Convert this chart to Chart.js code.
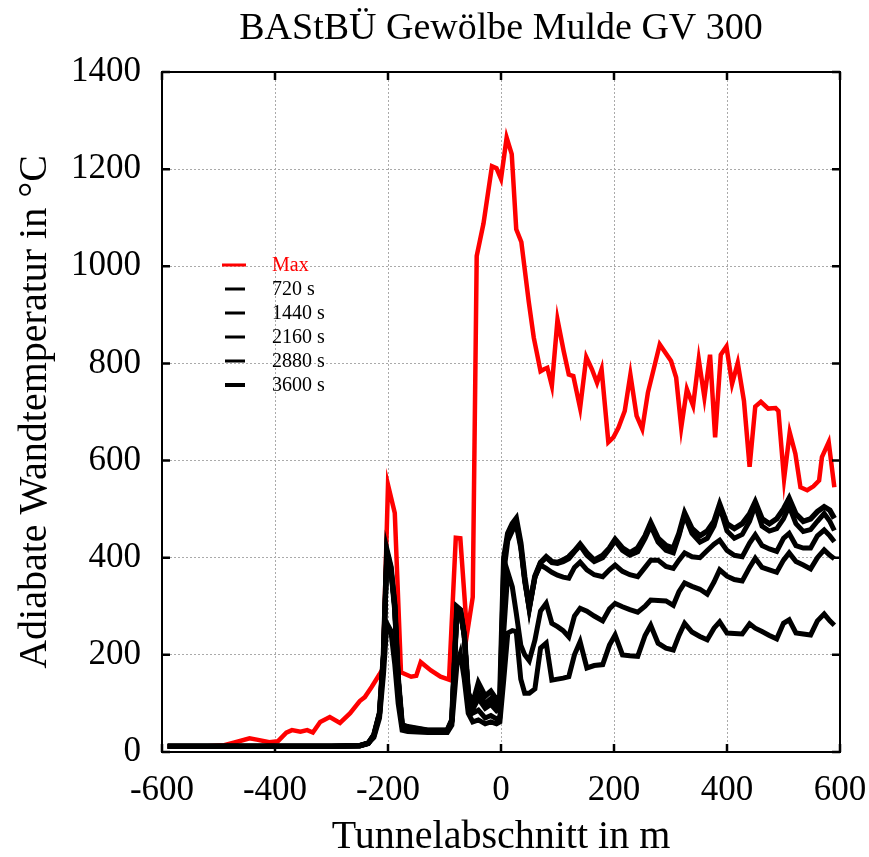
<!DOCTYPE html>
<html>
<head>
<meta charset="utf-8">
<script src="https://cdn.jsdelivr.net/npm/chart.js@4"></script>
<style>
  body { margin: 0; background: #fff; }
</style>
</head>
<body>
<canvas id="chart" width="869" height="857"></canvas>
<script>
// Max curve (own positions, m) and values (°C)
const maxX = [-590, -560, -520, -490, -470, -445, -430, -410, -395, -380, -370, -355, -343, -333, -320, -303, -285, -267,
  -250, -241, -229, -215, -209, -200, -188, -177, -159, -150, -142, -124, -107, -92, -80, -72, -60, -50, -43, -31,
  -16, -8, 0, 10, 19, 27, 36, 49, 58, 70, 76, 82, 90, 100, 111, 120, 128, 140, 151, 161, 170, 178, 190, 199, 208,
  219, 229, 240, 250, 260, 281, 301, 310, 319, 329, 340, 350, 360, 370, 379, 389, 399, 409, 419, 430, 440, 450,
  460, 473, 486, 491, 501, 511, 521, 530, 542, 553, 563, 568, 580, 590];
const maxT = [12, 12, 12, 14, 20, 28, 25, 20, 22, 40, 45, 42, 45, 40, 62, 72, 60, 80,
  105, 113, 134, 160, 172, 550, 492, 164, 155, 157, 185, 168, 155, 149, 441, 440, 244, 319, 1021, 1088,
  1206, 1202, 1180, 1265, 1231, 1076, 1050, 928, 853, 784, 788, 791, 754, 890, 825, 777, 774, 708, 813, 788, 760, 788, 638, 648, 668,
  702, 777, 692, 665, 740, 839, 805, 771, 668, 747, 713, 808, 730, 818, 648, 818, 835, 758, 801, 723, 587, 711,
  721, 707, 708, 702, 562, 658, 614, 545, 539, 547, 559, 607, 638, 545];

// Positions of the time curves (m)
const posX = [-590, -500, -400, -300, -250, -235, -225, -215, -208, -202, -195, -188, -182, -175, -165, -130, -95, -87, -78, -72,
  -65, -58, -50, -40, -28, -18, -8, -2, 5, 12, 20, 27, 35, 42, 50, 60, 70, 80, 90, 100,
  110, 120, 130, 140, 152, 165, 180, 192, 202, 215, 228, 242, 255, 265, 278, 292, 305, 315, 325, 338,
  352, 365, 377, 387, 400, 413, 427, 440, 450, 462, 475, 488, 500, 510, 522, 535, 548, 560, 572, 582, 590];

const t720 = [12, 12, 12, 12, 13, 18, 30, 70, 160, 265, 250, 180, 100, 45, 42, 40, 40, 55, 180, 203,
  150, 80, 62, 66, 58, 62, 58, 62, 150, 245, 250, 248, 150, 121, 121, 130, 214, 224, 148, 150,
  152, 155, 200, 227, 173, 178, 180, 220, 241, 200, 198, 197, 240, 261, 224, 214, 210, 240, 265, 247,
  238, 231, 255, 268, 245, 244, 243, 264, 255, 248, 240, 233, 265, 272, 245, 243, 241, 270, 284, 270, 261];
const t1440 = [12, 12, 12, 12, 13, 18, 33, 78, 195, 405, 375, 290, 150, 55, 48, 43, 43, 62, 295, 290,
  240, 120, 80, 86, 70, 75, 68, 72, 250, 370, 340, 286, 220, 200, 188, 230, 290, 306, 265, 258,
  250, 237, 280, 296, 290, 280, 270, 295, 306, 299, 293, 288, 300, 313, 312, 311, 302, 330, 348, 341,
  335, 325, 350, 375, 362, 355, 352, 380, 399, 380, 375, 370, 395, 410, 392, 385, 377, 400, 416, 405, 398];
const t2160 = [12, 12, 12, 12, 13, 18, 35, 80, 200, 410, 380, 300, 150, 55, 50, 44, 44, 64, 297, 292,
  240, 120, 88, 110, 90, 98, 85, 90, 370, 435, 455, 468, 420, 350, 296, 360, 385, 378, 370, 364,
  360, 358, 380, 391, 375, 365, 361, 375, 385, 372, 365, 361, 380, 395, 395, 382, 378, 395, 410, 402,
  400, 415, 428, 436, 415, 405, 402, 430, 447, 425, 418, 413, 440, 450, 425, 420, 420, 445, 457, 445, 433];
const t2880 = [12, 12, 12, 12, 13, 18, 35, 80, 200, 413, 380, 300, 150, 55, 51, 45, 45, 65, 298, 292,
  240, 120, 95, 121, 100, 110, 95, 102, 390, 445, 465, 476, 425, 355, 296, 360, 390, 400, 390, 388,
  392, 398, 412, 425, 405, 392, 400, 418, 435, 415, 405, 412, 440, 466, 432, 415, 410, 445, 488, 450,
  432, 440, 465, 505, 455, 440, 448, 475, 508, 465, 455, 460, 480, 506, 470, 454, 458, 475, 491, 475, 456];
const t3600 = [12, 12, 12, 12, 13, 18, 35, 80, 200, 416, 382, 302, 152, 56, 52, 45, 45, 66, 299, 293,
  242, 122, 100, 142, 115, 125, 108, 115, 400, 450, 470, 481, 430, 360, 296, 362, 390, 402, 392, 390,
  395, 402, 414, 428, 410, 395, 405, 420, 438, 420, 410, 420, 445, 472, 440, 425, 420, 450, 492, 460,
  445, 455, 475, 510, 470, 460, 470, 490, 515, 480, 470, 480, 500, 522, 490, 475, 480, 495, 505, 498, 481];

const seriesNames = ['Max', '720 s', '1440 s', '2160 s', '2880 s', '3600 s'];
const xTicks = [-600, -400, -200, 0, 200, 400, 600];
const yTicks = [0, 200, 400, 600, 800, 1000, 1200, 1400];
const chartTitle = 'BAStBÜ Gewölbe Mulde GV 300';

const FONT = '"Liberation Serif", "Times New Roman", serif';

function pts(xs, ys) {
  return xs.map((x, i) => ({ x: x, y: ys[i] }));
}

const timeSeries = [t720, t1440, t2160, t2880, t3600];
const datasets = [{
  label: seriesNames[0],
  data: pts(maxX, maxT),
  borderColor: '#ff0000',
  borderWidth: 4.5,
  order: 1
}];
timeSeries.forEach((vals, i) => {
  datasets.push({
    label: seriesNames[i + 1],
    data: pts(posX, vals),
    borderColor: '#000000',
    borderWidth: i === 4 ? 5.5 : 5,
    order: 0
  });
});

// title, frame, inward ticks and the legend inside the plot
const framePlugin = {
  id: 'frame',
  afterDraw(chart) {
    const { ctx, chartArea: a, scales } = chart;
    ctx.save();
    ctx.fillStyle = '#000';
    ctx.font = '38px ' + FONT;
    ctx.textAlign = 'center';
    ctx.textBaseline = 'middle';
    ctx.fillText(chartTitle, (a.left + a.right) / 2, 29);

    ctx.strokeStyle = '#000';
    ctx.lineWidth = 2;
    ctx.strokeRect(a.left, a.top, a.right - a.left, a.bottom - a.top);
    ctx.lineWidth = 2.5;
    ctx.beginPath();
    xTicks.forEach(v => {
      const px = scales.x.getPixelForValue(v);
      ctx.moveTo(px, a.bottom); ctx.lineTo(px, a.bottom - 8);
      ctx.moveTo(px, a.top); ctx.lineTo(px, a.top + 8);
    });
    yTicks.forEach(v => {
      const py = scales.y.getPixelForValue(v);
      ctx.moveTo(a.left, py); ctx.lineTo(a.left + 8, py);
      ctx.moveTo(a.right, py); ctx.lineTo(a.right - 8, py);
    });
    ctx.stroke();

    // legend
    ctx.font = '20px ' + FONT;
    ctx.textAlign = 'left';
    chart.data.datasets.forEach((ds, i) => {
      const y = a.top + 193 + i * 24;
      ctx.strokeStyle = ds.borderColor;
      ctx.lineWidth = i === 5 ? 4 : 3;
      ctx.beginPath();
      ctx.moveTo(a.left + (i === 0 ? 60 : 63), y);
      ctx.lineTo(a.left + (i === 0 ? 84 : 83), y);
      ctx.stroke();
      ctx.fillStyle = ds.borderColor;
      ctx.fillText(ds.label, a.left + 110, y + 1);
    });
    ctx.restore();
  }
};

new Chart(document.getElementById('chart'), {
  type: 'line',
  data: { datasets: datasets },
  options: {
    responsive: false,
    animation: false,
    layout: { padding: { top: 72, right: 29, left: 0, bottom: 0 } },
    elements: { point: { radius: 0 }, line: { tension: 0 } },
    plugins: {
      legend: { display: false },
      tooltip: { enabled: false },
      title: { display: false }
    },
    scales: {
      x: {
        type: 'linear',
        min: -600, max: 600,
        ticks: {
          stepSize: 200,
          color: '#000',
          padding: 18,
          font: { family: FONT, size: 35 },
          callback: v => String(v)
        },
        grid: { color: '#aaaaaa', lineWidth: 1, drawTicks: false },
        border: { display: false, dash: [2, 2] },
        title: {
          display: true,
          text: 'Tunnelabschnitt in m',
          color: '#000',
          font: { family: FONT, size: 40, lineHeight: 1 },
          padding: { top: 6, bottom: 0 }
        },
        afterFit(scale) {
          scale.height = 105;
          scale.paddingLeft = 0;
          scale.paddingRight = 0;
        }
      },
      y: {
        min: 0, max: 1400,
        ticks: {
          stepSize: 200,
          color: '#000',
          padding: 21,
          font: { family: FONT, size: 35 },
          callback: v => String(v)
        },
        grid: { color: '#aaaaaa', lineWidth: 1, drawTicks: false },
        border: { display: false, dash: [2, 2] },
        title: {
          display: true,
          text: 'Adiabate Wandtemperatur in °C',
          color: '#000',
          font: { family: FONT, size: 40, lineHeight: 1 },
          padding: { top: 15, bottom: 0 }
        },
        afterFit(scale) {
          scale.width = 162;
          scale.paddingTop = 0;
          scale.paddingBottom = 0;
        }
      }
    }
  },
  plugins: [framePlugin]
});
</script>
</body>
</html>
